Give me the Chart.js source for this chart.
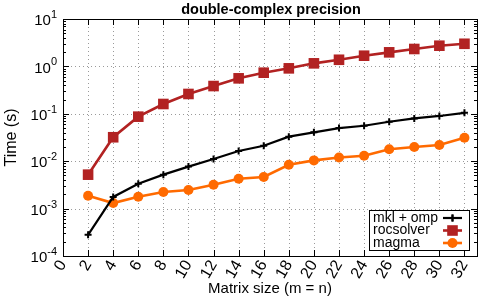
<!DOCTYPE html>
<html>
<head>
<meta charset="utf-8">
<script src="https://cdn.jsdelivr.net/npm/chart.js@4/dist/chart.umd.min.js"></script>
<style>
  html, body { margin: 0; padding: 0; background: #fff; }
  #wrap { width: 488px; height: 306px; }
</style>
</head>
<body>
<div id="wrap"><canvas id="c" width="488" height="306"></canvas></div>
<script>
// data
const sizes = [2, 4, 6, 8, 10, 12, 14, 16, 18, 20, 22, 24, 26, 28, 30, 32];
const mklOmp = [0.00028, 0.00176, 0.00335, 0.0052, 0.0077, 0.0111, 0.0164, 0.0212, 0.0329, 0.0407, 0.050, 0.056, 0.068, 0.080, 0.090, 0.105];
const rocsolver = [0.0052, 0.032, 0.087, 0.161, 0.262, 0.385, 0.56, 0.736, 0.91, 1.16, 1.38, 1.68, 1.98, 2.33, 2.73, 3.0];
const magma = [0.00187, 0.00131, 0.00178, 0.00224, 0.00247, 0.00319, 0.00427, 0.00464, 0.0084, 0.0104, 0.012, 0.013, 0.0178, 0.020, 0.022, 0.0313];
const xTicks = [0, 2, 4, 6, 8, 10, 12, 14, 16, 18, 20, 22, 24, 26, 28, 30, 32];
const yExponents = [-4, -3, -2, -1, 0, 1];

const FONT = "'Liberation Sans', Arial, Helvetica, sans-serif";
const RED = "#b22222";
const ORANGE = "#ff6a00";

function pts(vals) {
    return sizes.map((s, i) => ({ x: s, y: vals[i] }));
}

const series = [
    { label: "mkl + omp", data: pts(mklOmp), borderColor: "#000", backgroundColor: "#000",
      borderWidth: 2.2, pointStyle: "cross", pointRadius: 3.5, pointBorderWidth: 2 },
    { label: "rocsolver", data: pts(rocsolver), borderColor: RED, backgroundColor: RED,
      borderWidth: 2.6, pointStyle: "rect", pointRadius: 7.5, pointBorderWidth: 0 },
    { label: "magma", data: pts(magma), borderColor: ORANGE, backgroundColor: ORANGE,
      borderWidth: 2.6, pointStyle: "circle", pointRadius: 5, pointBorderWidth: 0 }
];

// gnuplot-like frame: dotted grid, inward ticks, superscript labels, legend box
const gnuplotFrame = {
    id: "gnuplotFrame",
    beforeDatasetsDraw(chart) {
        const ctx = chart.ctx;
        const a = chart.chartArea;
        const xs = chart.scales.x, ys = chart.scales.y;
        ctx.save();
        // dotted grid
        ctx.strokeStyle = "#9a9a9a";
        ctx.lineWidth = 1;
        ctx.setLineDash([1, 3]);
        xTicks.forEach(t => {
            if (t === 0) return;
            const px = Math.round(xs.getPixelForValue(t)) + 0.5;
            ctx.beginPath(); ctx.moveTo(px, a.top); ctx.lineTo(px, a.bottom); ctx.stroke();
        });
        yExponents.forEach(e => {
            const py = Math.round(ys.getPixelForValue(Math.pow(10, e))) + 0.5;
            if (py <= a.top + 1 || py >= a.bottom - 1) return;
            ctx.beginPath(); ctx.moveTo(a.left, py); ctx.lineTo(a.right, py); ctx.stroke();
        });
        ctx.setLineDash([]);
        // tick marks
        ctx.strokeStyle = "#000";
        xTicks.forEach(t => {
            const px = Math.round(xs.getPixelForValue(t)) + 0.5;
            ctx.beginPath();
            ctx.moveTo(px, a.bottom); ctx.lineTo(px, a.bottom - 6);
            ctx.moveTo(px, a.top); ctx.lineTo(px, a.top + 6);
            ctx.stroke();
        });
        for (let e = -4; e <= 1; e++) {
            for (let m = 1; m <= 9; m++) {
                const v = m * Math.pow(10, e);
                if (v > 10.0001) break;
                const py = Math.round(ys.getPixelForValue(v)) + 0.5;
                const len = m === 1 ? 6 : 3;
                ctx.beginPath();
                ctx.moveTo(a.left, py); ctx.lineTo(a.left + len, py);
                ctx.moveTo(a.right, py); ctx.lineTo(a.right - len, py);
                ctx.stroke();
            }
        }
        ctx.restore();
    },
    afterDatasetsDraw(chart) {
        const ctx = chart.ctx;
        const a = chart.chartArea;
        const ys = chart.scales.y;
        ctx.save();
        // frame
        ctx.strokeStyle = "#000";
        ctx.lineWidth = 1;
        ctx.strokeRect(Math.round(a.left) + 0.5, Math.round(a.top) + 0.5,
            Math.round(a.right - a.left), Math.round(a.bottom - a.top));

        // y tick labels 10^n
        ctx.fillStyle = "#000";
        ctx.textBaseline = "middle";
        yExponents.forEach(e => {
            const py = ys.getPixelForValue(Math.pow(10, e));
            const ex = String(e);
            ctx.font = "11px " + FONT;
            const ew = ctx.measureText(ex).width;
            ctx.textAlign = "right";
            ctx.fillText(ex, a.left - 6, py - 4);
            ctx.font = "15px " + FONT;
            ctx.fillText("10", a.left - 6 - ew, py + 2);
        });

        // title and axis titles
        const cx = (a.left + a.right) / 2;
        ctx.textAlign = "center";
        ctx.font = "bold 14.5px " + FONT;
        ctx.fillText("double-complex precision", cx + 1, 10);
        ctx.font = "15px " + FONT;
        ctx.fillText("Matrix size (m = n)", cx, 289);
        ctx.save();
        ctx.translate(12, (a.top + a.bottom) / 2);
        ctx.rotate(-Math.PI / 2);
        ctx.font = "16px " + FONT;
        ctx.fillText("Time (s)", 0, 0);
        ctx.restore();

        // legend box
        const bx = 369.5, by = 210.5, bw = 100, bh = 40;
        ctx.fillStyle = "#fff";
        ctx.fillRect(bx, by, bw, bh);
        ctx.strokeStyle = "#000";
        ctx.strokeRect(bx, by, bw, bh);
        ctx.font = "14px " + FONT;
        ctx.textAlign = "left";
        series.forEach((s, i) => {
            const ly = 218 + i * 12.5;
            ctx.fillStyle = "#000";
            ctx.fillText(s.label, 373, ly);
            ctx.strokeStyle = s.borderColor;
            ctx.lineWidth = s.borderWidth;
            ctx.beginPath(); ctx.moveTo(443, ly); ctx.lineTo(462, ly); ctx.stroke();
            ctx.fillStyle = s.backgroundColor;
            ctx.lineWidth = s.pointBorderWidth || 1;
            Chart.helpers.drawPoint(ctx, {
                pointStyle: s.pointStyle, radius: s.pointRadius, rotation: 0,
                borderWidth: s.pointBorderWidth
            }, 452.5, ly);
            if (s.pointBorderWidth) ctx.stroke();
        });
        ctx.restore();
    }
};

new Chart(document.getElementById("c"), {
    type: "line",
    data: { datasets: series },
    plugins: [gnuplotFrame],
    options: {
        responsive: false,
        animation: false,
        layout: { padding: { left: 0, right: 11, top: 19, bottom: 0 } },
        plugins: { legend: { display: false }, tooltip: { enabled: false }, title: { display: false } },
        scales: {
            x: {
                type: "linear", min: 0, max: 33,
                afterBuildTicks: s => { s.ticks = xTicks.map(v => ({ value: v })); },
                afterFit: s => { s.height = 50; s.paddingLeft = 0; s.paddingRight = 0; },
                grid: { display: false, drawTicks: false },
                border: { display: false },
                ticks: {
                    color: "#000", font: { family: FONT, size: 16 },
                    minRotation: 60, maxRotation: 60, padding: 1, autoSkip: false
                }
            },
            y: {
                type: "logarithmic", min: 1e-4, max: 10,
                afterBuildTicks: s => { s.ticks = yExponents.map(e => ({ value: Math.pow(10, e) })); },
                afterFit: s => { s.width = 63; },
                grid: { display: false, drawTicks: false },
                border: { display: false },
                ticks: { display: false }
            }
        }
    }
});
</script>
</body>
</html>
